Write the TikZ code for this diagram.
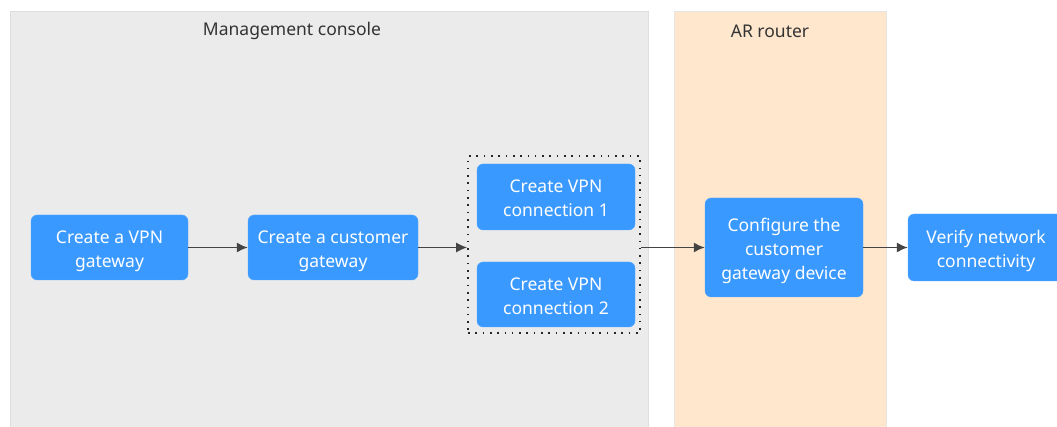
\documentclass[tikz,border=0pt]{standalone}
\usepackage{fontspec}
\setmainfont{Noto Sans}
\usepackage{tikz}
\usetikzlibrary{positioning,arrows.meta}
\definecolor{StepBlue}{HTML}{3A99FF}
\definecolor{ConsoleGray}{HTML}{EBEBEB}
\definecolor{RouterOrange}{HTML}{FFE7CE}
\definecolor{ArrowGray}{HTML}{444444}
\definecolor{TitleGray}{HTML}{333333}
% struts pour centrer le texte comme l'original
\newcommand{\topstrut}{\rule{0pt}{21pt}}
\newcommand{\botstrut}{\rule[-5pt]{0pt}{5pt}}

\tikzset{
  stepbox/.style={fill=StepBlue, draw=StepBlue!85!white, rounded corners=6pt, text=white, align=center, inner sep=0pt},
  flow/.style={draw=ArrowGray, line width=1.5pt, -{Latex[length=11pt,width=10pt]}},
  paneltitle/.style={text=TitleGray},
}

\begin{document}
\begin{tikzpicture}[x=1pt, y=-1pt, every node/.style={font=\fontsize{17.5}{24}\selectfont}]
        \clip (0,0) rectangle (1057,427);
        \fill[white] (0,0) rectangle (1057,427);
        % Bandes de fond
        \draw[fill=ConsoleGray, draw=black!13] (10,11) rectangle (648,440);
        \draw[fill=RouterOrange, draw=black!10] (674,11) rectangle (886,440);
        \node[paneltitle] (console) at (292,31) {Management console};
        \node[paneltitle] (router) at (770,31) {AR router};

        % Etapes
        \node[stepbox, minimum width=157, minimum height=65] (vpngw) at (109.5,247.5) {\topstrut Create a VPN\\gateway\botstrut};
        \node[stepbox, minimum width=170, minimum height=65] (custgw) at (333,247.5) {\topstrut Create a customer\\gateway\botstrut};
        \node[draw=black!85, dash pattern=on 1.6pt off 5.7pt, line width=1.6pt, minimum width=172, minimum height=177] (conngrp) at (554,244.5) {};
        \node[stepbox, minimum width=158, minimum height=66] (conn1) at (556,197) {\topstrut Create VPN\\connection 1\botstrut};
        \node[stepbox, minimum width=158, minimum height=65] (conn2) at (556,294.5) {\topstrut Create VPN\\connection 2\botstrut};
        \node[stepbox, minimum width=158, minimum height=99] (devcfg) at (784,247.5) {\topstrut Configure the\\customer\\gateway device\botstrut};
        \node[stepbox, minimum width=156, minimum height=67] (verify) at (986,247.5) {\topstrut Verify network\\connectivity\botstrut};

        % Fleches
        \draw[flow] (vpngw) -- (custgw);
        \draw[flow] (custgw.east) -- (custgw.east -| conngrp.west);
        \draw[flow] (conngrp.east |- devcfg.west) -- (devcfg.west);
        \draw[flow] (devcfg) -- (verify);
    \end{tikzpicture}
\end{document}
